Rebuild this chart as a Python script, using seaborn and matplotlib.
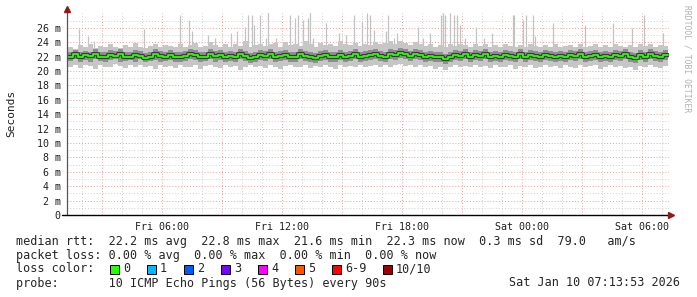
import numpy as np
import pandas as pd
import matplotlib
matplotlib.use("Agg")
import matplotlib.pyplot as plt
import seaborn as sns
from matplotlib.patches import Rectangle

# ---------------- data (ms) ----------------
t_start = 1.3      # hours after Fri 00:00
t_step = 0.25      # hours between samples

med = [22.0, 22.3, 21.9, 22.2, 22.1, 22.4, 22.0, 21.9, 22.2, 22.1, 22.3, 21.9, 22.0, 22.2, 22.1, 21.8, 22.0, 22.3, 22.1, 22.0,
       22.2, 22.0, 21.9, 22.1, 22.3, 22.2, 21.9, 22.0, 22.4, 22.1, 22.2, 21.9, 22.1, 22.0, 22.3, 22.1, 21.8, 22.0, 22.2, 22.1,
       22.3, 22.0, 22.1, 22.2, 21.9, 22.0, 22.3, 22.1, 22.0, 21.8, 22.1, 22.2, 22.0, 21.9, 22.2, 22.0, 22.1, 22.3, 22.0, 22.1,
       22.2, 22.4, 22.1, 22.0, 22.3, 22.2, 22.5, 22.3, 22.1, 22.4, 22.2, 22.0, 22.1, 21.9, 22.0, 21.7, 21.9, 22.2, 22.1, 22.3,
       22.0, 22.2, 22.1, 22.3, 21.9, 22.1, 22.0, 22.2, 22.1, 21.9, 22.3, 22.0, 22.2, 22.1, 22.0, 22.2, 22.1, 21.9, 22.1, 22.0,
       22.2, 22.1, 22.3, 22.0, 22.1, 22.2, 21.9, 22.1, 22.0, 22.2, 22.1, 22.3, 22.0, 21.8, 22.2, 22.0, 22.4, 22.1, 21.9, 22.2]

lo = [20.6, 20.9, 20.4, 20.8, 20.7, 20.3, 20.9, 20.6, 20.5, 21.0, 20.7, 20.4, 20.8, 20.6, 20.9, 20.5, 20.7, 20.3, 20.8, 20.6,
      20.7, 20.4, 20.9, 20.6, 20.5, 20.8, 20.3, 20.7, 20.9, 20.6, 20.4, 20.8, 20.5, 20.7, 20.2, 20.6, 20.9, 20.5, 20.7, 20.4,
      20.8, 20.6, 20.3, 20.7, 20.9, 20.5, 20.6, 20.8, 20.4, 20.7, 20.5, 20.9, 20.6, 20.3, 20.8, 20.6, 20.7, 20.5, 20.9, 20.6,
      20.7, 20.9, 20.5, 20.8, 20.6, 20.9, 21.0, 20.7, 20.8, 20.6, 20.9, 20.5, 20.7, 20.3, 20.6, 20.2, 20.5, 20.8, 20.6, 20.7,
      20.5, 20.8, 20.6, 20.7, 20.4, 20.8, 20.6, 20.5, 20.9, 20.3, 20.7, 20.6, 20.8, 20.4, 20.6, 20.9, 20.5, 20.7, 20.4, 20.8,
      20.6, 20.4, 20.8, 20.5, 20.7, 20.9, 20.3, 20.6, 20.8, 20.5, 20.7, 20.4, 20.6, 20.2, 20.7, 20.5, 20.8, 20.6, 20.4, 20.7]

hi = [23.4, 23.1, 23.6, 23.3, 23.8, 23.2, 23.5, 23.3, 23.7, 23.4, 23.2, 23.6, 23.3, 23.9, 23.4, 23.2, 23.5, 23.7, 23.3, 23.6,
      23.5, 23.3, 23.8, 23.4, 23.6, 23.9, 23.3, 23.5, 24.0, 23.6, 23.4, 23.7, 23.3, 23.8, 23.5, 24.1, 23.4, 23.6, 23.8, 23.5,
      23.7, 23.9, 23.4, 24.0, 23.6, 23.8, 23.5, 24.2, 23.7, 23.4, 23.9, 23.6, 23.8, 23.5, 24.1, 23.7, 23.6, 23.9, 23.5, 23.8,
      23.6, 24.0, 23.7, 23.9, 24.2, 23.8, 24.1, 23.9, 23.6, 24.0, 23.7, 23.5, 23.8, 23.4, 23.6, 23.3, 23.7, 23.5, 23.8, 23.6,
      23.4, 23.7, 23.5, 23.8, 23.3, 23.6, 23.4, 23.7, 23.5, 23.3, 23.6, 23.4, 23.8, 23.5, 23.3, 23.6, 23.4, 23.7, 23.3, 23.5,
      23.6, 23.4, 23.7, 23.3, 23.5, 23.8, 23.4, 23.6, 23.3, 23.7, 23.5, 23.4, 23.6, 23.3, 23.7, 23.5, 23.8, 23.4, 23.6, 23.5]

lo2 = [21.4, 21.6, 21.2, 21.5, 21.3, 21.6, 21.4, 21.2, 21.5, 21.6, 21.3, 21.4, 21.5, 21.2, 21.6, 21.3, 21.4, 21.5, 21.2, 21.4,
       21.5, 21.3, 21.2, 21.4, 21.6, 21.5, 21.2, 21.4, 21.6, 21.3, 21.5, 21.2, 21.4, 21.3, 21.6, 21.4, 21.1, 21.3, 21.5, 21.4,
       21.6, 21.3, 21.4, 21.5, 21.2, 21.3, 21.6, 21.4, 21.3, 21.1, 21.4, 21.5, 21.3, 21.2, 21.5, 21.3, 21.4, 21.6, 21.3, 21.4,
       21.5, 21.7, 21.4, 21.3, 21.6, 21.5, 21.8, 21.6, 21.4, 21.7, 21.5, 21.3, 21.4, 21.2, 21.3, 21.0, 21.2, 21.5, 21.4, 21.6,
       21.3, 21.5, 21.4, 21.6, 21.2, 21.4, 21.3, 21.5, 21.4, 21.2, 21.6, 21.3, 21.5, 21.4, 21.3, 21.5, 21.4, 21.2, 21.4, 21.3,
       21.5, 21.4, 21.6, 21.3, 21.4, 21.5, 21.2, 21.4, 21.3, 21.5, 21.4, 21.6, 21.3, 21.1, 21.5, 21.3, 21.7, 21.4, 21.2, 21.5]

hi2 = [22.7, 22.9, 22.6, 22.8, 22.7, 23.0, 22.6, 22.7, 22.9, 22.8, 23.0, 22.6, 22.7, 22.9, 22.8, 22.5, 22.7, 23.0, 22.8, 22.7,
       22.9, 22.7, 22.6, 22.8, 23.0, 22.9, 22.6, 22.7, 23.1, 22.8, 22.9, 22.6, 22.8, 22.7, 23.0, 22.8, 22.5, 22.7, 22.9, 22.8,
       23.0, 22.7, 22.8, 22.9, 22.6, 22.7, 23.0, 22.8, 22.7, 22.5, 22.8, 22.9, 22.7, 22.6, 22.9, 22.7, 22.8, 23.0, 22.7, 22.8,
       22.9, 23.1, 22.8, 22.7, 23.0, 22.9, 23.2, 23.0, 22.8, 23.1, 22.9, 22.7, 22.8, 22.6, 22.7, 22.4, 22.6, 22.9, 22.8, 23.0,
       22.7, 22.9, 22.8, 23.0, 22.6, 22.8, 22.7, 22.9, 22.8, 22.6, 23.0, 22.7, 22.9, 22.8, 22.7, 22.9, 22.8, 22.6, 22.8, 22.7,
       22.9, 22.8, 23.0, 22.7, 22.8, 22.9, 22.6, 22.8, 22.7, 22.9, 22.8, 23.0, 22.7, 22.5, 22.9, 22.7, 23.1, 22.8, 22.6, 22.9]

# isolated high pings (hours after Fri 00:00, ms)
spike_t = [1.85, 2.30, 2.60, 5.10, 6.90, 7.35, 7.50, 8.30, 8.65, 9.45, 9.75, 10.15, 10.30, 10.50, 10.60, 10.90,
           11.20, 11.30, 11.70, 12.40, 12.65, 12.80, 13.05, 13.30, 13.40, 13.55, 14.20, 14.85, 15.20, 15.60, 16.00,
           16.25, 16.40, 16.60, 17.20, 17.30, 17.60, 17.75, 18.80, 19.05, 19.40, 19.95, 20.05, 20.15, 20.40, 20.60,
           20.75, 20.90, 21.15, 21.70, 22.10, 22.50, 23.55, 23.60, 24.05, 24.20, 24.55, 24.65, 25.55, 27.15, 28.55,
           29.50, 30.10, 31.05]
spike_v = [25.9, 24.8, 24.2, 25.9, 27.8, 27.1, 25.5, 25.0, 24.6, 25.3, 25.6, 26.1, 27.8, 27.8, 26.4, 27.8,
           24.6, 28.5, 24.6, 27.8, 27.4, 27.8, 27.1, 27.4, 28.2, 24.6, 26.7, 25.3, 25.0, 27.8, 26.8,
           28.0, 27.8, 25.7, 25.5, 27.8, 24.6, 25.3, 26.1, 24.6, 25.3, 27.8, 28.0, 27.8, 28.0, 27.8,
           27.8, 26.4, 24.6, 26.1, 24.6, 25.3, 27.8, 27.8, 27.1, 27.8, 27.8, 24.8, 26.7, 26.4, 26.6,
           26.0, 27.8, 25.3]

x_tick_hours = [6, 12, 18, 24, 30]
x_tick_labels = ["Fri 06:00", "Fri 12:00", "Fri 18:00", "Sat 00:00", "Sat 06:00"]
y_ticks = [0, 2, 4, 6, 8, 10, 12, 14, 16, 18, 20, 22, 24, 26]
y_tick_labels = ["0", "2 m", "4 m", "6 m", "8 m", "10 m", "12 m", "14 m", "16 m", "18 m",
                 "20 m", "22 m", "24 m", "26 m"]

loss_labels = ["0", "1", "2", "3", "4", "5", "6-9", "10/10"]
loss_colors = ["#26ff00", "#00b8ff", "#0059ff", "#7e00ff", "#ff00ff", "#ff5500", "#ff0000", "#a00000"]

legend_rtt = "median rtt:  22.2 ms avg  22.8 ms max  21.6 ms min  22.3 ms now  0.3 ms sd  79.0   am/s"
legend_loss = "packet loss: 0.00 % avg  0.00 % max  0.00 % min  0.00 % now"
legend_probe = "probe:       10 ICMP Echo Pings (56 Bytes) every 90s"
stamp = "Sat Jan 10 07:13:53 2026"

# ---------------- styling ----------------
sns.set_style("white")
plt.rcParams["font.family"] = ["DejaVu Sans Mono"]

W, H = 697, 297
fig = plt.figure(figsize=(W / 100, H / 100), dpi=100)
fig.patch.set_facecolor("white")
x0, x1, yb, yt = 67, 669, 215, 13.4
ax = fig.add_axes([x0 / W, 1 - yb / H, (x1 - x0) / W, (yb - yt) / H])
ax.set_facecolor("white")

t = t_start + t_step * np.arange(len(med))
df = pd.DataFrame({"t": t, "med": med, "lo": lo, "hi": hi, "lo2": lo2, "hi2": hi2})
t_ext = np.append(t, t[-1] + t_step)

ax.set_xlim(1.25, 31.35)
ax.set_ylim(0, 28)

# grid
for h in range(2, 32):
    ax.axvline(h, color="#e0a0a0" if h % 3 == 0 else "#cfcfcf", lw=0.7,
               ls=(0, (1, 2)), zorder=1)
for v in range(1, 28):
    ax.axhline(v, color="#e0a0a0" if v % 2 == 0 else "#cfcfcf", lw=0.7,
               ls=(0, (1, 2)), zorder=1)

# spikes
base = np.interp(spike_t, t, med)
ax.vlines(spike_t, base, spike_v, color="#c2c2c2", lw=0.9, zorder=2)

# smoke bands
def ext(a):
    return np.append(a, a[-1])

ax.fill_between(t_ext, ext(df["lo"].values), ext(df["hi"].values), step="post",
                color="#c6c6c6", lw=0, zorder=3)
ax.fill_between(t_ext, ext(df["lo2"].values), ext(df["hi2"].values), step="post",
                color="#8e8e8e", lw=0, zorder=4)

dfe = pd.DataFrame({"t": t_ext, "med": ext(df["med"].values)})
sns.lineplot(data=dfe, x="t", y="med", ax=ax, color="#3a3a3a", lw=3.0,
             drawstyle="steps-post", zorder=5)
sns.lineplot(data=dfe, x="t", y="med", ax=ax, color="#26ff00", lw=1.3,
             drawstyle="steps-post", zorder=6)

ax.set_xlabel("")
ax.set_ylabel("")
ax.set_xticks(x_tick_hours)
ax.set_xticklabels(x_tick_labels, fontsize=7.2)
ax.set_yticks(y_ticks)
ax.set_yticklabels(y_tick_labels, fontsize=7.2)
ax.tick_params(axis="x", length=0, pad=5, colors="#202020")
ax.tick_params(axis="y", length=0, pad=4.5, colors="#202020")
for s in ax.spines.values():
    s.set_visible(False)

# axes lines with arrows
ax.plot([0, 0], [0, 1.012], transform=ax.transAxes, color="#555555", lw=0.9,
        clip_on=False, zorder=10)
ax.plot([0], [1.02], transform=ax.transAxes, marker="^", ms=4.5, color="#8b1a1a",
        clip_on=False, zorder=11)
ax.plot([-0.0083, 1.0], [0, 0], transform=ax.transAxes, color="#000000", lw=1.0,
        clip_on=False, zorder=10)
ax.plot([1.004], [0], transform=ax.transAxes, marker=">", ms=4.5, color="#8b1a1a",
        clip_on=False, zorder=11)

# labels
fig.text(11 / W, 1 - 113 / H, "Seconds", rotation=90, ha="center", va="center",
         fontsize=8, color="#202020")
fig.text(687 / W, 1 - 5 / H, "RRDTOOL / TOBI OETIKER", rotation=270, ha="center",
         va="top", fontsize=5.8, color="#b0b0b0")

fs = 8.5
fig.text(16 / W, 1 - 241 / H, legend_rtt, ha="left", va="center", fontsize=fs)
fig.text(16 / W, 1 - 255 / H, legend_loss, ha="left", va="center", fontsize=fs)
fig.text(16 / W, 1 - 269 / H, "loss color:", ha="left", va="center", fontsize=fs)
label_x = [123, 160, 197, 234, 271, 308, 345, 396]
for lx, lab, col in zip(label_x, loss_labels, loss_colors):
    fig.patches.append(Rectangle(((lx - 13) / W, 1 - 274 / H), 9 / W, 9 / H,
                                 transform=fig.transFigure, facecolor=col,
                                 edgecolor="black", lw=0.7))
    fig.text(lx / W, 1 - 269 / H, lab, ha="left", va="center", fontsize=fs)
fig.text(16 / W, 1 - 283 / H, legend_probe, ha="left", va="center", fontsize=fs)
fig.text(680 / W, 1 - 283 / H, stamp, ha="right", va="center", fontsize=fs)

fig.savefig("out.png", dpi=100)
